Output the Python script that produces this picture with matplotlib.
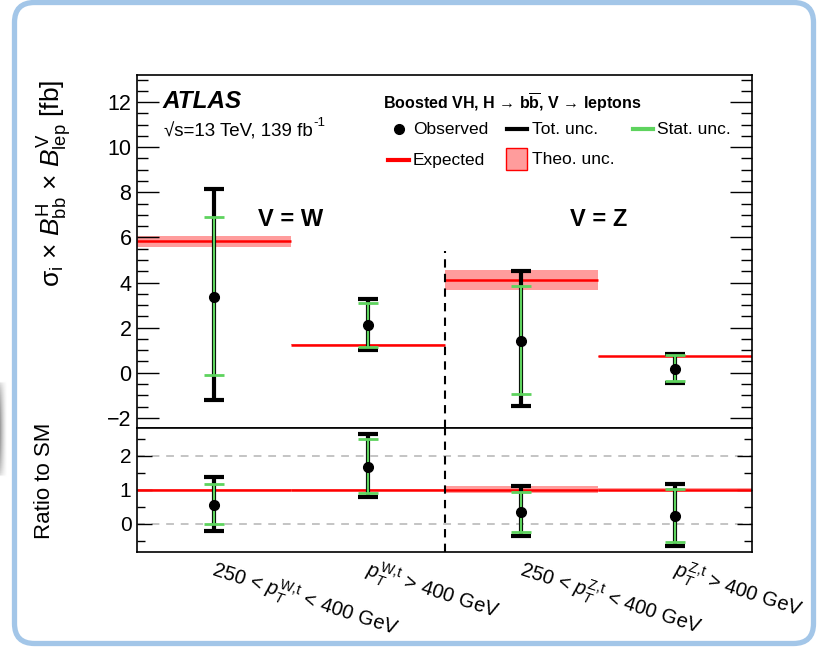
import numpy as np
import matplotlib
matplotlib.use("Agg")
import matplotlib.pyplot as plt
from matplotlib.patches import FancyBboxPatch, Rectangle
from matplotlib.lines import Line2D
from matplotlib.ticker import MultipleLocator
import matplotlib.transforms as mtransforms

plt.rcParams['font.family'] = ['Liberation Sans', 'DejaVu Sans']
plt.rcParams['mathtext.fontset'] = 'custom'
plt.rcParams['mathtext.rm'] = 'Liberation Sans'
plt.rcParams['mathtext.it'] = 'Liberation Sans:italic'
plt.rcParams['mathtext.bf'] = 'Liberation Sans:bold'
plt.rcParams['mathtext.sf'] = 'Liberation Sans'

# ---------------- data ----------------
categories = [r'250 < $p_{T}^{\rm W{,}t}$ < 400 GeV',
              r'$p_{T}^{\rm W{,}t}$ > 400 GeV',
              r'250 < $p_{T}^{\rm Z{,}t}$ < 400 GeV',
              r'$p_{T}^{\rm Z{,}t}$ > 400 GeV']

obs      = [3.34, 2.10, 1.40, 0.16]
tot_hi   = [8.15, 3.27, 4.52, 0.82]
tot_lo   = [-1.21, 1.02, -1.47, -0.45]
stat_hi  = [6.91, 3.09, 3.85, 0.78]
stat_lo  = [-0.10, 1.16, -0.95, -0.37]
expected = [5.83, 1.25, 4.11, 0.72]
theo_hi  = [6.08, 1.29, 4.55, 0.75]
theo_lo  = [5.57, 1.21, 3.68, 0.69]

r_obs     = [0.56, 1.66, 0.34, 0.23]
r_tot_hi  = [1.39, 2.63, 1.10, 1.16]
r_tot_lo  = [-0.20, 0.80, -0.35, -0.64]
r_stat_hi = [1.18, 2.48, 0.93, 1.03]
r_stat_lo = [-0.01, 0.91, -0.24, -0.52]
r_exp     = [1.0, 1.0, 1.0, 1.0]
r_theo_hi = [1.035, 1.035, 1.107, 1.045]
r_theo_lo = [0.965, 0.965, 0.895, 0.955]

channel_labels = ['V = W', 'V = Z']

# ---------------- figure ----------------
W, H = 832, 649
fig = plt.figure(figsize=(W / 100, H / 100), dpi=100)

def fx(px):
    return px / W

def fy(py):
    return 1 - py / H

left, right = 137, 752
top, mid, bottom = 75, 428, 552
ax = fig.add_axes([fx(left), fy(mid), fx(right) - fx(left), fy(top) - fy(mid)])
axr = fig.add_axes([fx(left), fy(bottom), fx(right) - fx(left), fy(mid) - fy(bottom)], sharex=ax)

n = len(obs)
x = np.arange(n) + 0.5
edges = np.arange(n + 1)

GREEN = '#5ed35e'
RED = '#ff0000'
PINK = '#ff9c9c'


def draw_panel(a, o, thi, tlo, shi, slo, ex, bhi, blo, cap):
    o = np.asarray(o); thi = np.asarray(thi); tlo = np.asarray(tlo)
    shi = np.asarray(shi); slo = np.asarray(slo)
    bhi = np.asarray(bhi); blo = np.asarray(blo)
    a.bar(x, bhi - blo, bottom=blo, width=1.0, color=PINK, edgecolor='none', zorder=1)
    a.hlines(ex, edges[:-1], edges[1:], colors=RED, lw=1.8, zorder=2)
    a.errorbar(x, o, yerr=[o - tlo, thi - o], fmt='none', ecolor='black',
               elinewidth=3.0, capsize=cap, capthick=3.0, zorder=3)
    a.errorbar(x, o, yerr=[o - slo, shi - o], fmt='none', ecolor=GREEN,
               elinewidth=1.6, capsize=cap, capthick=2.0, zorder=4)
    a.plot(x, o, 'o', color='black', ms=7, zorder=5)


draw_panel(ax, obs, tot_hi, tot_lo, stat_hi, stat_lo, expected, theo_hi, theo_lo, 7.5)
draw_panel(axr, r_obs, r_tot_hi, r_tot_lo, r_stat_hi, r_stat_lo, r_exp, r_theo_hi, r_theo_lo, 7.5)

# limits
ax.set_xlim(0, n)
ax.set_ylim(-2.45, 13.2)
axr.set_ylim(-0.82, 2.81)

# separator dashed line
ax.vlines(2, -2.45, 5.4, colors='black', linestyles=(0, (4, 3)), lw=1.5, zorder=6)
axr.axvline(2, color='black', ls=(0, (4, 3)), lw=1.5, zorder=6)

# ratio reference lines
for yv in (0, 2):
    axr.axhline(yv, color='#c4c4c4', ls=(0, (4, 3.5)), lw=1.4, zorder=0)

# channel labels
ax.text(1.0, 6.8, channel_labels[0], ha='center', va='center', fontsize=17, fontweight='bold')
ax.text(3.0, 6.8, channel_labels[1], ha='center', va='center', fontsize=17, fontweight='bold')

# ticks
for a, maj, mn, Lmaj, Lmin, fs in ((ax, 2, 0.5, 16, 8, 15.5), (axr, 1, 0.5, 11, 5.5, 15)):
    a.yaxis.set_major_locator(MultipleLocator(maj))
    a.yaxis.set_minor_locator(MultipleLocator(mn))
    a.tick_params(axis='y', which='major', direction='in', left=True, right=True,
                  length=Lmaj, width=1.0, labelsize=fs, pad=4)
    a.tick_params(axis='y', which='minor', direction='in', left=True, right=True,
                  length=Lmin, width=1.0)
    a.tick_params(axis='x', which='both', bottom=False, top=False, labelbottom=False)
    for s in a.spines.values():
        s.set_linewidth(1.2)

ax.set_yticks([-2, 0, 2, 4, 6, 8, 10, 12])
ax.set_yticklabels(['\u22122', '0', '2', '4', '6', '8', '10', '12'])
axr.set_yticks([0, 1, 2])

# x category labels (rotated)
trans = mtransforms.blended_transform_factory(axr.transData, axr.transAxes)
for xi, lab in zip(x, categories):
    t = axr.text(xi, -0.19, lab, transform=trans, rotation=-18, rotation_mode='anchor',
                 ha='left', va='baseline', fontsize=14.5)
    t.set_transform(trans + mtransforms.ScaledTranslation(-3 / 100, 0, fig.dpi_scale_trans))

# y labels
fig.text(fx(55), fy(80), '\u03c3$_{\\rm i}$ \u00d7 $B^{\\rm H}_{\\rm bb}$ \u00d7 $B^{\\rm V}_{\\rm lep}$ [fb]',
         rotation=90, ha='center', va='top', fontsize=19)
fig.text(fx(45), fy(423), 'Ratio to SM', rotation=90, ha='center', va='top', fontsize=16)

# ATLAS label
fig.text(fx(163), fy(102), 'ATLAS', ha='left', va='center', fontsize=17.5,
         fontweight='bold', fontstyle='italic')
lumi = fig.text(fx(164), fy(132), '\u221as=13 TeV, 139 fb', ha='left', va='center', fontsize=13.5)
renderer = fig.canvas.get_renderer()
bb = lumi.get_window_extent(renderer)
fig.text(bb.x1 / W + 0.5 / W, bb.y1 / H - 6 / H, '-1', ha='left', va='bottom', fontsize=9.5)

# legend (manual)
fig.text(fx(383), fy(103), 'Boosted VH, H \u2192 b$\\overline{\\mathbf{b}}$, V \u2192 leptons',
         ha='left', va='center', fontsize=11.5, fontweight='bold')
leg_fs = 12.5
fig.add_artist(Line2D([fx(399)], [fy(129)], marker='o', color='black', ms=7, ls='none'))
fig.text(fx(413), fy(129), 'Observed', ha='left', va='center', fontsize=leg_fs)
fig.add_artist(Line2D([fx(507), fx(527)], [fy(129), fy(129)], color='black', lw=3))
fig.text(fx(532), fy(129), 'Tot. unc.', ha='left', va='center', fontsize=leg_fs)
fig.add_artist(Line2D([fx(633), fx(653)], [fy(129), fy(129)], color=GREEN, lw=3))
fig.text(fx(657), fy(129), 'Stat. unc.', ha='left', va='center', fontsize=leg_fs)
fig.add_artist(Line2D([fx(388), fx(409)], [fy(160), fy(160)], color=RED, lw=3))
fig.text(fx(413), fy(160), 'Expected', ha='left', va='center', fontsize=leg_fs)
fig.add_artist(Rectangle((fx(506), fy(170)), fx(527) - fx(506), fy(148) - fy(170),
                         transform=fig.transFigure, facecolor=PINK, edgecolor=RED, lw=1.0))
fig.text(fx(532), fy(160), 'Theo. unc.', ha='left', va='center', fontsize=leg_fs)

# rounded frame
frame = FancyBboxPatch((14.5, H - 643.5), 813.5 - 14.5, 643.5 - 2.5,
                       boxstyle='round,pad=0,rounding_size=20', transform=None,
                       facecolor='none', edgecolor='#a3c6e8', lw=3.8)
fig.add_artist(frame)

# grey shadow artifact at left edge
sh = fig.add_axes([0, fy(478), fx(7), fy(380) - fy(478)])
grad = np.linspace(1, 0, 50)[None, :] * np.ones((40, 1))
vert = np.sin(np.linspace(0, np.pi, 40))[:, None] ** 0.3
sh.imshow(grad * vert, cmap='Greys', vmin=0, vmax=2.0, aspect='auto')
sh.axis('off')

fig.savefig('out.png', dpi=100)
